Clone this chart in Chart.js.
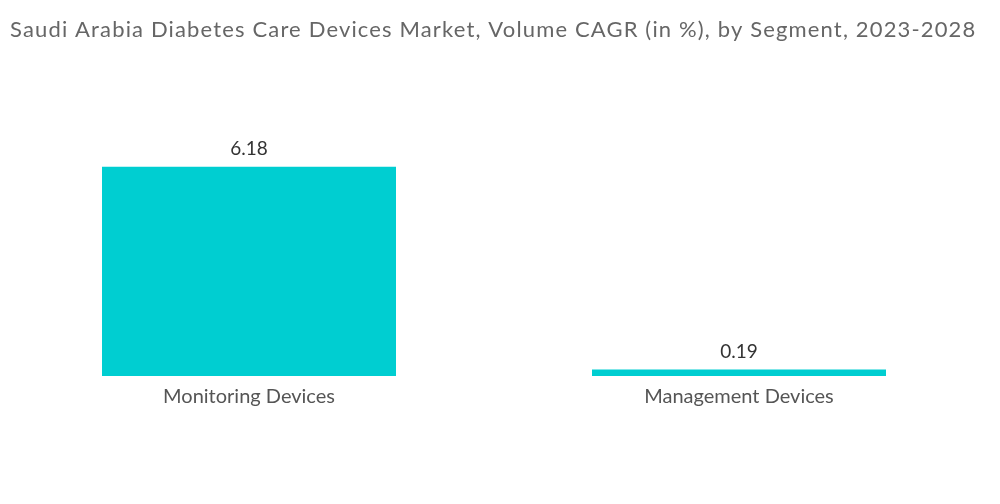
<!DOCTYPE html>
<html>
<head>
<meta charset="utf-8">
<script src="https://cdn.jsdelivr.net/npm/chart.js@4.4.1/dist/chart.umd.min.js"></script>
<style>
  html, body { margin: 0; padding: 0; background: #fff; }
  #wrap { width: 1000px; height: 504px; }
</style>
</head>
<body>
<div id="wrap"><canvas id="chart" width="1000" height="504"></canvas></div>
<script>
  // chart data
  const segments = ["Monitoring Devices", "Management Devices"];
  const cagrValues = [6.18, 0.19];
  const chartTitle = "Saudi Arabia Diabetes Care Devices Market, Volume CAGR (in %), by Segment, 2023-2028";

  // title drawn by hand so letter spacing can be widened
  const titleText = {
    id: "titleText",
    afterDraw(chart) {
      const ctx = chart.ctx;
      ctx.save();
      ctx.font = "22px Lato";
      ctx.fillStyle = "#666";
      ctx.textAlign = "left";
      ctx.textBaseline = "middle";
      ctx.letterSpacing = "1.15px";
      ctx.fillText(chartTitle, 10, 30);
      ctx.restore();
    },
  };

  // value labels above bars
  const valueLabels = {
    id: "valueLabels",
    afterDatasetsDraw(chart) {
      const ctx = chart.ctx;
      const meta = chart.getDatasetMeta(0);
      ctx.save();
      ctx.font = "19px Lato";
      ctx.fillStyle = "#333";
      ctx.textAlign = "center";
      ctx.textBaseline = "bottom";
      meta.data.forEach((bar, i) => {
        ctx.fillText(cagrValues[i].toFixed(2), bar.x, bar.y - 8);
      });
      ctx.restore();
    },
  };

  const ctx = document.getElementById("chart").getContext("2d");
  const chart = new Chart(ctx, {
    type: "bar",
    data: {
      labels: segments,
      datasets: [
        {
          data: cagrValues,
          backgroundColor: "#00CED1",
          categoryPercentage: 1,
          barPercentage: 0.6,
        },
      ],
    },
    options: {
      responsive: false,
      animation: false,
      layout: {
        padding: { left: 4, right: 16, top: 139, bottom: 86 },
      },
      scales: {
        y: {
          display: false,
          min: 0,
          max: 7,
        },
        x: {
          grid: { display: false, drawTicks: false },
          border: { display: false },
          ticks: {
            color: "#555",
            padding: 9,
            font: { family: "Lato", size: 20 },
          },
        },
      },
      plugins: {
        legend: { display: false },
        tooltip: { enabled: false },
        title: { display: false },
      },
    },
    plugins: [valueLabels, titleText],
  });
</script>
</body>
</html>
